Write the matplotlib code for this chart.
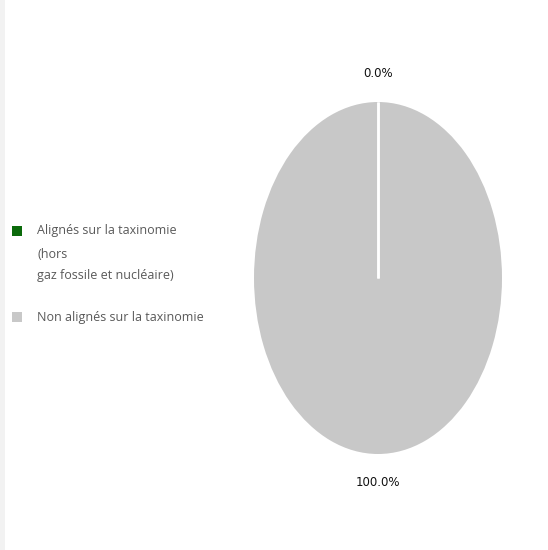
import numpy as np
import matplotlib
matplotlib.use("Agg")
import matplotlib.pyplot as plt
from matplotlib.patches import Rectangle

# data
categories = ["Alignés sur la taxinomie", "Non alignés sur la taxinomie"]
category_notes = ["(hors\ngaz fossile et nucléaire)", ""]
shares = [0.0, 100.0]
colors = ["#0b6a0b", "#c8c8c8"]

W, H = 548, 550
fig = plt.figure(figsize=(W / 100, H / 100), dpi=100)
fig.patch.set_facecolor("white")

# thin grey strip on the left edge
fig.patches.append(Rectangle((0, 0), 5 / W, 1, transform=fig.transFigure,
                             facecolor="#f2f2f2", edgecolor="none"))

# pie area in pixels: x 254..502, y 102..454 (from top)
ax = fig.add_axes([254 / W, (H - 454) / H, 248 / W, 352 / H])
wedges, _ = ax.pie(shares, colors=colors, startangle=90, counterclock=False,
                   wedgeprops=dict(edgecolor="white", linewidth=0))
ax.set_aspect("auto")
ax.set_xlim(-1, 1)
ax.set_ylim(-1, 1)
ax.axis("off")

# white separator on the slice boundaries (a full 360 wedge draws no radius)
for w in wedges:
    a = np.deg2rad(w.theta1)
    ax.plot([0, np.cos(a)], [0, np.sin(a)], color="white", lw=1.8,
            solid_capstyle="butt", zorder=5)

for w, v in zip(wedges, shares):
    mid = np.deg2rad((w.theta1 + w.theta2) / 2)
    ax.text(1.16 * np.cos(mid), 1.16 * np.sin(mid), f"{v:.1f}%",
            ha="center", va="center", fontsize=8.5, color="#111111",
            family=["Liberation Sans Narrow", "DejaVu Sans"], clip_on=False)

# legend, drawn by hand to keep the spacing of the original
legend_y = [231, 317]
text_color = "#595959"
for cat, note, col, y in zip(categories, category_notes, colors, legend_y):
    fig.patches.append(Rectangle((12 / W, 1 - (y + 5) / H), 10 / W, 10 / H,
                                 transform=fig.transFigure,
                                 facecolor=col, edgecolor="none"))
    fig.text(37 / W, 1 - y / H, cat, ha="left", va="center", fontsize=9,
             color=text_color, family="Open Sans")
    if note:
        for k, line in enumerate(note.split("\n")):
            fig.text(37 / W, 1 - (y + 24 + 20 * k) / H, line, ha="left",
                     va="center", fontsize=9, color=text_color,
                     family="Open Sans")

fig.savefig("out.png", dpi=100)
